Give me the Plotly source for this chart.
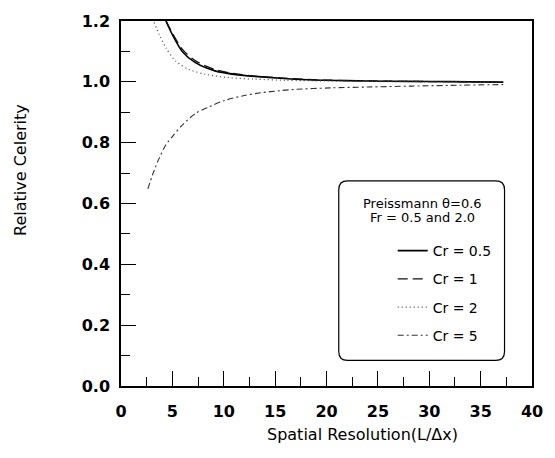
import plotly.graph_objects as go

# ---- data ----
x_cr05 = [4.37, 5.0, 5.96, 7.24, 9.15, 11.4, 13.0, 15.5, 18.7, 22.0, 26.0, 30.0, 34.0, 37.2]
y_cr05 = [1.200, 1.155, 1.100, 1.063, 1.036, 1.023, 1.018, 1.012, 1.006, 1.004, 1.002, 1.001, 1.000, 0.999]

x_cr1 = [4.40, 5.0, 6.0, 7.3, 9.2, 11.4, 13.0, 15.5, 18.7, 22.0, 26.0, 30.0, 34.0, 37.2]
y_cr1 = [1.200, 1.160, 1.106, 1.068, 1.040, 1.025, 1.019, 1.013, 1.007, 1.004, 1.002, 1.001, 1.000, 0.999]

x_cr2 = [3.22, 3.73, 4.37, 5.33, 6.6, 8.2, 10.4, 13.0, 16.0, 20.0, 25.0, 30.0, 37.2]
y_cr2 = [1.195, 1.155, 1.112, 1.068, 1.041, 1.025, 1.014, 1.009, 1.005, 1.003, 1.001, 1.000, 0.999]

x_cr5 = [2.61, 3.09, 3.73, 4.37, 5.0, 5.96, 7.24, 8.52, 10.1, 12.0, 13.6, 15.5, 16.8, 20.3, 24.0, 28.3, 33.0, 37.2]
y_cr5 = [0.648, 0.696, 0.750, 0.793, 0.820, 0.858, 0.896, 0.917, 0.939, 0.955, 0.964, 0.971, 0.975, 0.980, 0.983, 0.986, 0.989, 0.991]

series_names = ["Cr = 0.5", "Cr = 1", "Cr = 2", "Cr = 5"]
x_ticks = [0, 5, 10, 15, 20, 25, 30, 35, 40]
y_ticks = [0.0, 0.2, 0.4, 0.6, 0.8, 1.0, 1.2]

legend_title_1 = "Preissmann θ=0.6"
legend_title_2 = "Fr = 0.5 and 2.0"
x_title = "Spatial Resolution(L/Δx)"
y_title = "Relative Celerity"

# ---- figure ----
W, H = 555, 458
L, R, T, B = 121, 15, 16, 72
PW, PH = W - L - R, H - T - B


def px(xp):
    return (xp - L) / PW


def py(yp):
    return (H - B - yp) / PH


FONT = "DejaVu Sans"
styles = [
    dict(color="black", width=1.6, dash="solid"),
    dict(color="#111111", width=1.3, dash="10px,5px"),
    dict(color="#444444", width=1.2, dash="1px,3px"),
    dict(color="#333333", width=1.1, dash="6px,3px,2px,3px"),
]

fig = go.Figure()
for name, xs, ys, st in zip(series_names, [x_cr05, x_cr1, x_cr2, x_cr5],
                            [y_cr05, y_cr1, y_cr2, y_cr5], styles):
    fig.add_trace(go.Scatter(x=xs, y=ys, mode="lines", name=name,
                             legendgroup=name,
                             line=dict(shape="spline", smoothing=0.8, **st)))

axis_common = dict(
    showline=True, linecolor="black", linewidth=1.5, mirror=True,
    showgrid=False, zeroline=False,
    ticks="inside", ticklen=15, tickwidth=1.3, tickcolor="black",
    tickfont=dict(family=FONT, size=16, color="black", weight="bold"),
)

fig.update_xaxes(range=[0, 40], tickmode="array", tickvals=x_ticks,
                 ticktext=[str(v) for v in x_ticks],
                 minor=dict(ticks="inside", ticklen=9, tickwidth=1.2,
                            tickcolor="black", dtick=2.5, tick0=0),
                 ticklabelstandoff=10, **axis_common)
fig.update_yaxes(range=[0, 1.2], tickmode="array", tickvals=y_ticks,
                 ticktext=[f"{v:.1f}" for v in y_ticks],
                 minor=dict(ticks="inside", ticklen=9, tickwidth=1.2,
                            tickcolor="black", dtick=0.1, tick0=0),
                 ticklabelstandoff=6, **axis_common)

# rounded legend box
x0, x1, y0, y1, r = px(343), px(512), py(178), py(360), 9
rx, ry = r / PW, r / PH
path = (f"M {x0+rx},{y0} L {x1-rx},{y0} Q {x1},{y0} {x1},{y0-ry} "
        f"L {x1},{y1+ry} Q {x1},{y1} {x1-rx},{y1} L {x0+rx},{y1} "
        f"Q {x0},{y1} {x0},{y1+ry} L {x0},{y0-ry} Q {x0},{y0} {x0+rx},{y0} Z")
fig.add_shape(type="path", path=path, xref="paper", yref="paper",
              line=dict(color="black", width=1.2), fillcolor="white", layer="below")

fig.add_annotation(text=legend_title_1, x=px(428), y=py(201), xref="paper", yref="paper",
                   showarrow=False, xanchor="center", yanchor="middle",
                   font=dict(family=FONT, size=13, color="black"))
fig.add_annotation(text=legend_title_2, x=px(428), y=py(215), xref="paper", yref="paper",
                   showarrow=False, xanchor="center", yanchor="middle",
                   font=dict(family=FONT, size=13, color="black"))

fig.add_annotation(text=x_title, x=px(367), y=(H - B - 435) / PH, xref="paper", yref="paper",
                   showarrow=False, xanchor="center", yanchor="middle",
                   font=dict(family=FONT, size=16, color="black"))
fig.add_annotation(text=y_title, x=px(19), y=py(167), xref="paper", yref="paper",
                   showarrow=False, xanchor="center", yanchor="middle", textangle=-90,
                   font=dict(family=FONT, size=16, color="black"))

fig.update_layout(
    width=W, height=H,
    margin=dict(l=L, r=R, t=T, b=B, pad=0),
    paper_bgcolor="white", plot_bgcolor="white",
    showlegend=True,
    legend=dict(x=px(398), y=py(233), xanchor="left", yanchor="top",
                bgcolor="rgba(0,0,0,0)", borderwidth=0,
                traceorder="grouped", tracegroupgap=7,
                font=dict(family=FONT, size=14, color="black")),
)

fig.write_html("out.html")
